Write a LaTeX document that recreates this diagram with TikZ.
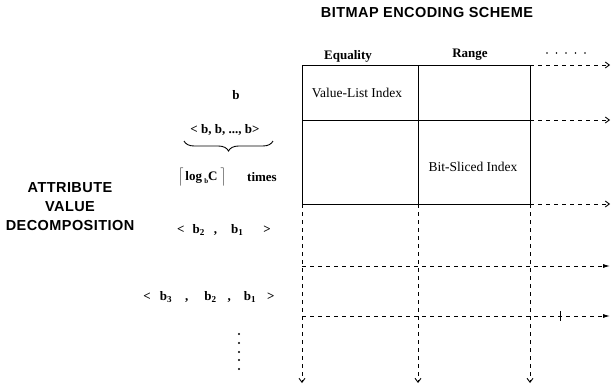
\documentclass[tikz,border=0pt]{standalone}
\usepackage{fontspec}
\setmainfont{Liberation Serif}
\newfontfamily\headfont[LetterSpace=3.0]{Liberation Sans}
\usetikzlibrary{arrows.meta,decorations.pathreplacing}
\begin{document}
\begin{tikzpicture}[x=1pt,y=-1pt,
  head/.style={font=\headfont\bfseries\fontsize{14.5}{19}\selectfont, inner sep=0pt, align=center},
  colhead/.style={font=\bfseries\fontsize{13}{15}\selectfont, inner sep=0pt},
  cell/.style={font=\fontsize{13.5}{15}\selectfont, inner sep=0pt},
  tup/.style={font=\bfseries\fontsize{13}{15}\selectfont, inner sep=0pt},
  solidline/.style={line width=0.9pt},
  dashline/.style={line width=0.9pt, dash pattern=on 4pt off 4pt},
  openarrow/.style={-{Straight Barb[length=4pt,width=6pt]}},
  fillarrow/.style={-{Latex[length=7pt,width=4pt]}},
  dotmark/.style={fill=black, draw=none},
]
\useasboundingbox (0,0) rectangle (611,391);

% grid coordinates
\coordinate (A1) at (302,65);  \coordinate (B1) at (418,65);  \coordinate (C1) at (530,65);  \coordinate (E1) at (610,65);
\coordinate (A2) at (302,120); \coordinate (B2) at (418,120); \coordinate (C2) at (530,120); \coordinate (E2) at (610,120);
\coordinate (A3) at (302,204); \coordinate (B3) at (418,204); \coordinate (C3) at (530,204); \coordinate (E3) at (610,204);
\coordinate (A4) at (302,266); \coordinate (E4) at (610,266);
\coordinate (A5) at (302,316); \coordinate (E5) at (610,316);
\coordinate (A6) at (302,383); \coordinate (B6) at (418,383); \coordinate (C6) at (530,383);
\coordinate (T1) at (560,311); \coordinate (T2) at (560,321);

% titles
\node[head] (title) at (427,13) {BITMAP ENCODING SCHEME};
\node[head] (avd) at (70,207) {ATTRIBUTE\\VALUE\\DECOMPOSITION};
\node[colhead] (eq) at (348,56) {Equality};
\node[colhead] (rg) at (470,55) {Range};
\foreach \i in {0,...,4} \fill[dotmark] (547+9.5*\i,53) circle (0.9);

% solid grid
\draw[solidline] (A1) -- (C1);
\draw[solidline] (A2) -- (C2);
\draw[solidline] (A3) -- (C3);
\draw[solidline] (A1) -- (A3);
\draw[solidline] (B1) -- (B3);
\draw[solidline] (C1) -- (C3);

% dashed extensions
\draw[dashline, openarrow] (C1) -- (E1);
\draw[dashline, openarrow] (C2) -- (E2);
\draw[dashline, openarrow] (C3) -- (E3);
\draw[dashline, fillarrow] (A4) -- (E4);
\draw[dashline, fillarrow] (A5) -- (E5);
\draw[dashline, openarrow] (A3) -- (A6);
\draw[dashline, openarrow] (B3) -- (B6);
\draw[dashline, openarrow] (C3) -- (C6);
\draw[line width=0.6pt] (T1) -- (T2);

% cells
\node[cell] (vli) at (357,93) {Value-List Index};
\node[cell] (bsi) at (473,167) {Bit-Sliced Index};

% decomposition column
\node[tup] (b) at (236,95) {b};
\node[tup] (bb) at (225,130) {< b, b, ..., b>};
\draw[line width=0.9pt, decorate, decoration={brace, amplitude=10pt, mirror}] (184,141) -- (273,141);
\node[tup] (log) at (202,177) {$\Bigl\lceil$\hspace{2pt}log\,\raisebox{-3pt}{\scriptsize b}C\hspace{3pt}$\Bigr\rceil$};
\node[tup] (times) at (262,177) {times};
\node[tup] (t2) at (224,230) {<\hspace{8pt}b\textsubscript{2}\hspace{9pt},\hspace{14pt}b\textsubscript{1}\hspace{20pt}>};
\node[tup] (t3) at (209,297) {<\hspace{9pt}b\textsubscript{3}\hspace{13pt},\hspace{16pt}b\textsubscript{2}\hspace{11pt},\hspace{13pt}b\textsubscript{1}\hspace{11pt}>};
\foreach \yy in {334,343,352,360,369} \fill[dotmark] (239,\yy) circle (1.1);
\end{tikzpicture}
\end{document}
